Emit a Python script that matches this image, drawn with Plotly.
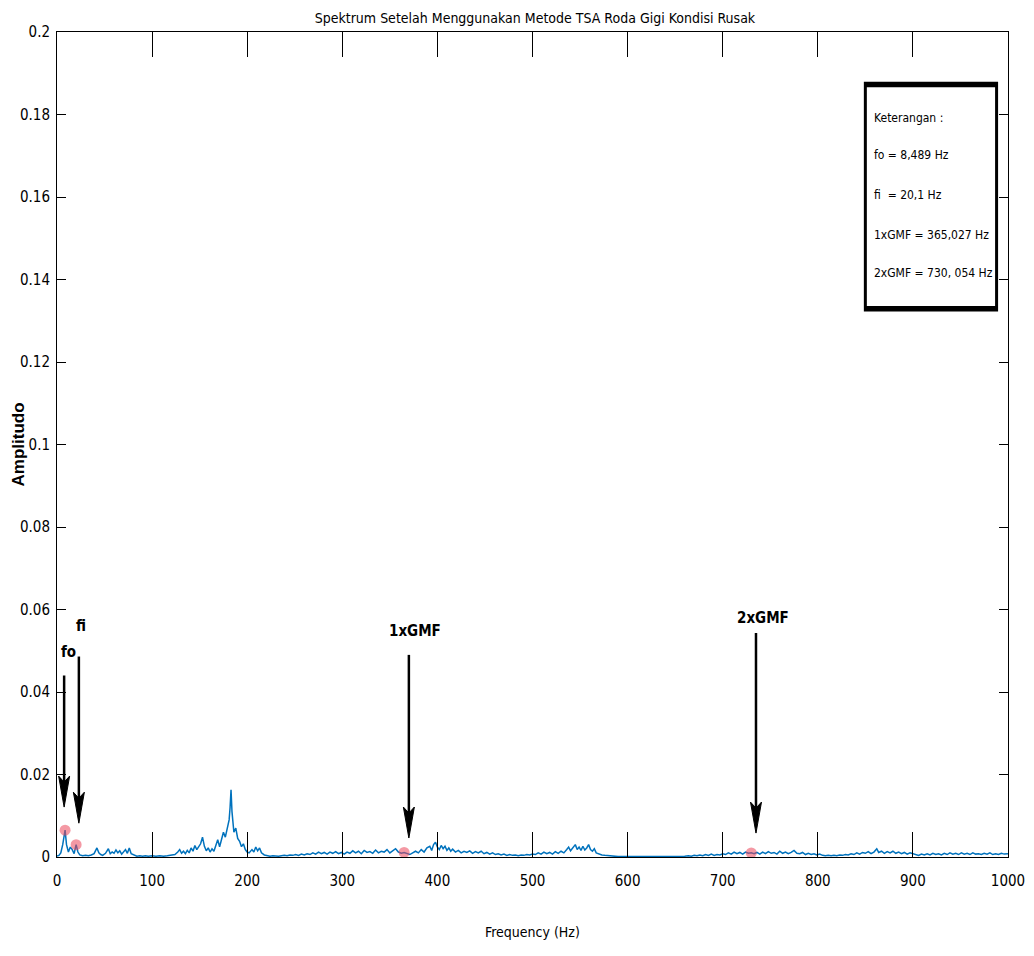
import plotly.graph_objects as go

# ---------------- data ----------------
freq_hz = [
    0, 2, 4, 6, 8.5, 10, 12, 14, 16, 18, 20.1, 22, 24, 27, 30, 33, 36, 39, 42, 44,
    46, 48, 51, 54, 56, 58, 60, 62, 64, 66, 68, 70, 72, 74, 76, 78, 81, 84, 87, 90,
    93, 96, 100, 104, 108, 112, 116, 120, 124, 127, 129, 131, 133, 135, 137, 139, 141, 143, 145, 147,
    149, 151, 153, 155, 157, 159, 161, 163, 165, 167, 169, 171, 173, 175, 177, 179, 181, 182, 183, 184,
    185, 186, 188, 190, 192, 194, 196, 198, 200, 202, 205, 207, 209, 211, 213, 215, 218, 221, 224, 227,
    230, 233, 236, 239, 242, 245, 248, 251, 254, 257, 260, 263, 266, 269, 272, 275, 278, 281, 284, 287,
    290, 293, 296, 299, 302, 305, 308, 311, 314, 317, 320, 323, 326, 329, 332, 335, 338, 341, 344, 347,
    350, 353, 356, 359, 362, 365, 368, 371, 374, 377, 380, 383, 386, 389, 392, 394, 396, 398, 400, 402,
    404, 406, 408, 410, 412, 414, 416, 419, 422, 425, 428, 431, 434, 437, 440, 443, 446, 449, 452, 455,
    458, 461, 464, 467, 470, 473, 476, 479, 482, 485, 488, 491, 494, 497, 500, 503, 506, 509, 512, 515,
    518, 521, 524, 527, 530, 533, 536, 538, 540, 542, 545, 547, 549, 551, 553, 555, 557, 559, 561, 563,
    565, 567, 570, 573, 576, 579, 582, 586, 590, 595, 600, 605, 610, 615, 620, 625, 630, 635, 640, 645,
    650, 655, 660, 664, 667, 670, 673, 676, 679, 682, 685, 688, 691, 694, 697, 700, 703, 706, 709, 712,
    715, 718, 721, 724, 727, 730, 733, 736, 739, 742, 745, 748, 751, 754, 757, 760, 763, 766, 769, 772,
    775, 778, 781, 784, 787, 790, 793, 796, 799, 802, 805, 808, 811, 814, 817, 820, 823, 826, 829, 832,
    835, 838, 841, 844, 847, 850, 853, 856, 859, 862, 864, 867, 870, 873, 876, 879, 882, 885, 888, 891,
    894, 897, 900, 903, 906, 909, 912, 915, 918, 921, 924, 927, 930, 933, 936, 939, 942, 945, 948, 951,
    954, 957, 960, 963, 966, 969, 972, 975, 978, 981, 984, 987, 990, 993, 996, 1000,
]

amplitude = [
    0.0002, 0.0004, 0.0010, 0.0030, 0.0065, 0.0030, 0.0012, 0.0024, 0.0018, 0.0008, 0.0030, 0.0012, 0.0005, 0.0003, 0.0004, 0.0003, 0.0005, 0.0008, 0.0022, 0.0010,
    0.0006, 0.0004, 0.0009, 0.0020, 0.0008, 0.0012, 0.0009, 0.0017, 0.0010, 0.0015, 0.0007, 0.0012, 0.0018, 0.0009, 0.0022, 0.0008, 0.0004, 0.0002, 0.0003, 0.0002,
    0.0003, 0.0002, 0.0003, 0.0002, 0.0003, 0.0002, 0.0003, 0.0004, 0.0006, 0.0012, 0.0018, 0.0009, 0.0014, 0.0008, 0.0016, 0.0010, 0.0022, 0.0014, 0.0028, 0.0018,
    0.0024, 0.0032, 0.0048, 0.0026, 0.0015, 0.0022, 0.0012, 0.0020, 0.0014, 0.0030, 0.0042, 0.0025, 0.0045, 0.0060, 0.0048, 0.0072, 0.0090, 0.0120, 0.0163, 0.0110,
    0.0078, 0.0060, 0.0070, 0.0045, 0.0038, 0.0025, 0.0032, 0.0018, 0.0012, 0.0010, 0.0018, 0.0012, 0.0024, 0.0015, 0.0022, 0.0010, 0.0005, 0.0003, 0.0002, 0.0003,
    0.0002, 0.0002, 0.0003, 0.0004, 0.0003, 0.0005, 0.0004, 0.0006, 0.0004, 0.0007, 0.0005, 0.0008, 0.0006, 0.0010, 0.0007, 0.0012, 0.0008, 0.0011, 0.0007, 0.0012,
    0.0009, 0.0013, 0.0008, 0.0011, 0.0007, 0.0012, 0.0009, 0.0015, 0.0010, 0.0014, 0.0008, 0.0016, 0.0011, 0.0013, 0.0009, 0.0017, 0.0010, 0.0014, 0.0012, 0.0018,
    0.0010, 0.0015, 0.0020, 0.0012, 0.0009, 0.0011, 0.0008, 0.0006, 0.0010, 0.0014, 0.0010, 0.0018, 0.0012, 0.0022, 0.0026, 0.0016, 0.0030, 0.0036, 0.0024, 0.0018,
    0.0028, 0.0020, 0.0026, 0.0016, 0.0022, 0.0014, 0.0019, 0.0012, 0.0016, 0.0010, 0.0014, 0.0011, 0.0015, 0.0009, 0.0013, 0.0010, 0.0014, 0.0008, 0.0011, 0.0007,
    0.0010, 0.0006, 0.0008, 0.0005, 0.0007, 0.0004, 0.0006, 0.0004, 0.0005, 0.0003, 0.0005, 0.0004, 0.0006, 0.0005, 0.0007, 0.0006, 0.0010, 0.0007, 0.0012, 0.0008,
    0.0011, 0.0007, 0.0013, 0.0009, 0.0014, 0.0010, 0.0018, 0.0024, 0.0015, 0.0022, 0.0030, 0.0018, 0.0024, 0.0016, 0.0026, 0.0017, 0.0022, 0.0030, 0.0018, 0.0014,
    0.0020, 0.0010, 0.0007, 0.0005, 0.0004, 0.0003, 0.0002, 0.0001, 0.0001, 0.0001, 0.0001, 0.0001, 0.0001, 0.0001, 0.0001, 0.0001, 0.0001, 0.0001, 0.0001, 0.0001,
    0.0001, 0.0002, 0.0002, 0.0003, 0.0002, 0.0004, 0.0003, 0.0005, 0.0003, 0.0006, 0.0004, 0.0007, 0.0004, 0.0006, 0.0005, 0.0008, 0.0006, 0.0010, 0.0007, 0.0012,
    0.0008, 0.0011, 0.0007, 0.0012, 0.0009, 0.0010, 0.0008, 0.0011, 0.0007, 0.0012, 0.0008, 0.0013, 0.0009, 0.0011, 0.0007, 0.0014, 0.0009, 0.0012, 0.0008, 0.0011,
    0.0016, 0.0009, 0.0008, 0.0011, 0.0006, 0.0009, 0.0006, 0.0008, 0.0005, 0.0007, 0.0004, 0.0003, 0.0004, 0.0003, 0.0004, 0.0003, 0.0005, 0.0004, 0.0006, 0.0005,
    0.0008, 0.0006, 0.0010, 0.0007, 0.0011, 0.0009, 0.0013, 0.0008, 0.0012, 0.0020, 0.0011, 0.0014, 0.0009, 0.0013, 0.0010, 0.0014, 0.0009, 0.0012, 0.0008, 0.0011,
    0.0007, 0.0010, 0.0008, 0.0006, 0.0004, 0.0007, 0.0005, 0.0008, 0.0005, 0.0009, 0.0006, 0.0008, 0.0005, 0.0009, 0.0006, 0.0010, 0.0007, 0.0009, 0.0006, 0.0010,
    0.0007, 0.0009, 0.0006, 0.0010, 0.0007, 0.0008, 0.0006, 0.0009, 0.0007, 0.0010, 0.0006, 0.0008, 0.0006, 0.0009, 0.0007, 0.0008,
]

# marked characteristic frequencies (red dots)
marker_freq = [8.489, 20.1, 365.027, 730.054]
marker_amp = [0.0065, 0.0030, 0.0011, 0.0010]

# arrow annotations: label, arrow x, arrow tip amplitude, arrow tail amplitude
arrow_labels = ["fo", "fi", "1xGMF", "2xGMF"]
arrow_x = [7.5, 23, 370, 735]
arrow_tip = [0.0121, 0.0082, 0.0046, 0.0058]
arrow_tail = [0.0440, 0.0486, 0.0490, 0.0543]
label_x = [12, 25, 376, 742]
label_y = [0.0497, 0.0560, 0.0548, 0.0580]

legend_lines = [
    "Keterangan :",
    "fo = 8,489 Hz",
    "fi  = 20,1 Hz",
    "1xGMF = 365,027 Hz",
    "2xGMF = 730, 054 Hz",
]

x_ticks = [0, 100, 200, 300, 400, 500, 600, 700, 800, 900, 1000]
y_ticks = [0, 0.02, 0.04, 0.06, 0.08, 0.1, 0.12, 0.14, 0.16, 0.18, 0.2]
y_tick_labels = ["0", "0.02", "0.04", "0.06", "0.08", "0.1", "0.12", "0.14", "0.16", "0.18", "0.2"]

assert len(freq_hz) == len(amplitude)

NARROW = "Liberation Sans Narrow, Arial Narrow, DejaVu Sans Condensed, Liberation Sans, sans-serif"

fig = go.Figure()
fig.add_trace(go.Scatter(
    x=freq_hz, y=amplitude, mode="lines",
    line=dict(color="#0072BD", width=1.5),
    showlegend=False, hoverinfo="x+y",
))
fig.add_trace(go.Scatter(
    x=marker_freq, y=marker_amp, mode="markers",
    marker=dict(color="rgba(235,70,90,0.55)", size=11, line=dict(width=0)),
    showlegend=False,
))

shapes = []
annotations = []
for lab, ax_, tip, tail, lx, ly in zip(arrow_labels, arrow_x, arrow_tip, arrow_tail, label_x, label_y):
    # shaft
    shapes.append(dict(type="line", xref="x", yref="y", x0=ax_, x1=ax_, y0=tail, y1=tip + 0.004,
                       line=dict(color="black", width=2.5)))
    # arrow head (pixel sized, anchored at the tip)
    shapes.append(dict(type="path", xref="x", yref="y", xsizemode="pixel", ysizemode="pixel",
                       xanchor=ax_, yanchor=tip,
                       path="M0,0 L-5.5,31 L0,25 L5.5,31 Z",
                       fillcolor="black", line=dict(color="black", width=1)))
    annotations.append(dict(x=lx, y=ly, xref="x", yref="y", text="<b>" + lab + "</b>", showarrow=False,
                            font=dict(family=NARROW, size=15, color="black"),
                            xanchor="center", yanchor="middle"))

# legend text box
shapes.append(dict(type="rect", xref="paper", yref="paper", x0=0.850, x1=0.988, y0=0.663, y1=0.938,
                   line=dict(color="black", width=3), fillcolor="white", layer="above"))
shapes.append(dict(type="line", xref="paper", yref="paper", x0=0.850, x1=0.988, y0=0.936, y1=0.936,
                   line=dict(color="black", width=5)))
shapes.append(dict(type="line", xref="paper", yref="paper", x0=0.850, x1=0.988, y0=0.665, y1=0.665,
                   line=dict(color="black", width=5)))
legend_y = [0.896, 0.851, 0.802, 0.754, 0.708]
for txt, ly in zip(legend_lines, legend_y):
    annotations.append(dict(x=0.857, y=ly, xref="paper", yref="paper", text=txt, showarrow=False,
                            font=dict(family=NARROW, size=12, color="black"),
                            xanchor="left", yanchor="middle"))

# axis titles as annotations for exact placement
annotations.append(dict(x=-0.041, y=0.5, xref="paper", yref="paper", text="<b>Amplitudo</b>",
                        textangle=-90, showarrow=False, xanchor="center", yanchor="middle",
                        font=dict(family="Liberation Sans, Arial, sans-serif", size=17, color="black")))
annotations.append(dict(x=0.5, y=-0.091, xref="paper", yref="paper", text="Frequency (Hz)",
                        showarrow=False, xanchor="center", yanchor="middle",
                        font=dict(family=NARROW, size=14, color="black")))

fig.update_layout(
    width=1026, height=948,
    margin=dict(l=49, r=26, t=24, b=99, autoexpand=False),
    paper_bgcolor="white", plot_bgcolor="white",
    title=dict(text="Spektrum Setelah Menggunakan Metode TSA Roda Gigi Kondisi Rusak",
               x=0.5136, xanchor="center", y=0.994, yanchor="top", pad=dict(t=0, b=0),
               font=dict(family=NARROW, size=14, color="black")),
    shapes=shapes, annotations=annotations,
    xaxis=dict(range=[0, 1000], tickvals=x_ticks, ticks="inside", ticklen=25, tickwidth=1,
               tickcolor="black", showline=True, linecolor="black", linewidth=1, mirror="ticks",
               showgrid=False, zeroline=False, automargin=False, ticklabelstandoff=10,
               tickfont=dict(family=NARROW, size=15, color="black")),
    yaxis=dict(range=[0, 0.2], tickvals=y_ticks, ticktext=y_tick_labels, ticks="inside", ticklen=9,
               tickwidth=1, tickcolor="black", showline=True, linecolor="black", linewidth=1,
               mirror="ticks", showgrid=False, zeroline=False, automargin=False, ticklabelstandoff=3,
               tickfont=dict(family=NARROW, size=15, color="black")),
)

fig.write_html("out.html")
